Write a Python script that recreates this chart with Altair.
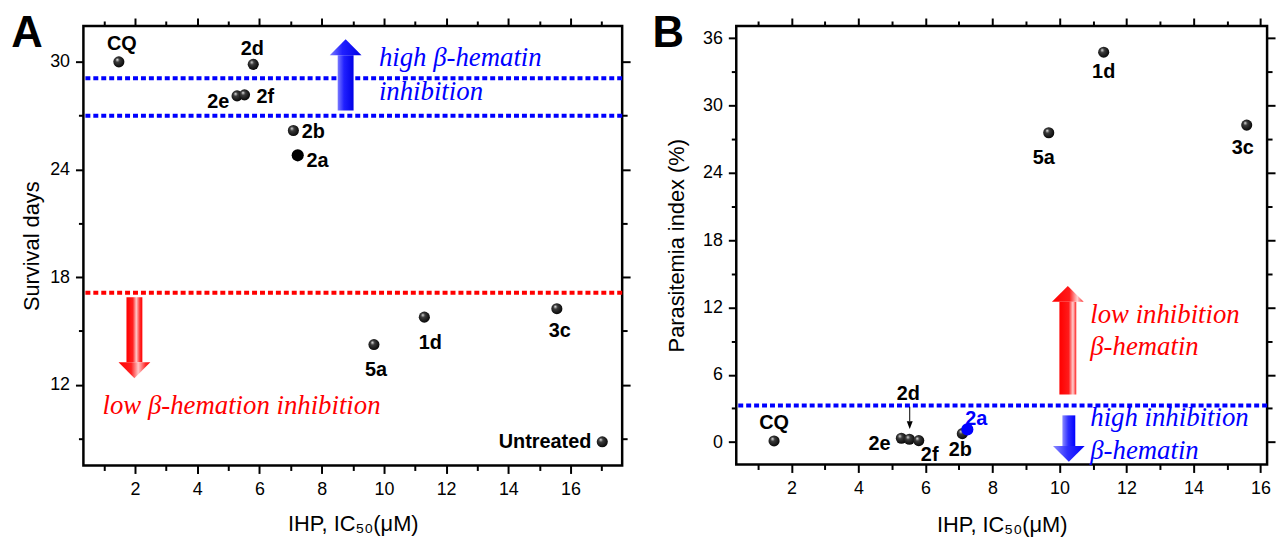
import altair as alt
import pandas as pd

# ---------------- data ----------------
# Panel A: survival days vs IHP IC50
a_names = ["CQ", "2d", "2e", "2f", "2b", "2a", "5a", "1d", "3c", "Untreated"]
a_ic50 = [1.48, 5.80, 5.28, 5.52, 7.09, 7.23, 9.68, 11.30, 15.56, 17.02]
a_survival = [30.0, 29.86, 28.10, 28.16, 26.17, 24.79, 14.24, 15.77, 16.24, 8.82]

# Panel B: parasitemia index vs IHP IC50
b_names = ["CQ", "2e", "2d", "2f", "2b", "2a", "5a", "1d", "3c"]
b_ic50 = [1.48, 5.28, 5.52, 5.80, 7.10, 7.25, 9.68, 11.32, 15.59]
b_parasitemia = [0.10, 0.34, 0.25, 0.13, 0.75, 1.13, 27.58, 34.76, 28.26]

# threshold lines
a_blue_lines = [29.08, 27.0]
a_red_lines = [17.13]
b_blue_lines = [3.26]

# tick values
a_x_ticks = list(range(1, 18))
a_y_ticks = list(range(9, 31, 3))
b_x_ticks = list(range(1, 17))
b_y_ticks = list(range(0, 37, 3))

# annotation arrows (x, shaft end, head base)
a_arrow_up = {"x": [8.77], "y1": [27.29], "y2": [30.37]}
a_arrow_down = {"x": [1.98], "y1": [16.88], "y2": [13.25]}
b_arrow_up = {"x": [10.25], "y1": [4.24], "y2": [12.51]}
b_arrow_down = {"x": [10.28], "y1": [2.38], "y2": [-0.35]}
b_pointer = {"x": [5.53], "y1": [3.15], "y2": [1.85]}

# annotation texts
a_notes_blue = {"text": ["high β-hematin", "inhibition"], "x": [9.84, 9.84], "y": [29.76, 27.88]}
a_notes_red = {"text": ["low β-hemation inhibition"], "x": [0.956], "y": [10.39]}
b_notes_red = {"text": ["low inhibition", "β-hematin"], "x": [10.92, 10.92], "y": [10.59, 7.78]}
b_notes_blue = {"text": ["high inhibition", "β-hematin"], "x": [10.92, 10.92], "y": [1.43, -1.52]}

dfA = pd.DataFrame({"name": a_names, "x": a_ic50, "y": a_survival})
dfB = pd.DataFrame({"name": b_names, "x": b_ic50, "y": b_parasitemia})

# ---------------- styles ----------------
BLUE = "#0000ff"
RED = "#ff0000"
SANS = "Liberation Sans"
SERIF = "Liberation Serif"

W_A, H_A = 543, 443
W_B, H_B = 535, 442

sphere = {"gradient": "radial", "x1": 0.35, "y1": 0.3, "r1": 0.0,
          "x2": 0.45, "y2": 0.45, "r2": 0.62,
          "stops": [{"offset": 0, "color": "#eeeeee"},
                    {"offset": 0.3, "color": "#3c3c3c"},
                    {"offset": 1, "color": "#000000"}]}


def lin(stops):
    return {"gradient": "linear", "x1": 0, "y1": 0, "x2": 1, "y2": 0,
            "stops": [{"offset": o, "color": c} for o, c in stops]}


blue_grad_a = lin([(0, "#7a7aff"), (0.4, "#2020ff"), (1, "#0000e6")])
red_grad_a = lin([(0, "#ff0000"), (0.4, "#ff2020"), (0.62, "#ffc8c8"), (0.85, "#ff2a2a"), (1, "#ff0000")])
red_grad_b = lin([(0, "#ff0000"), (0.55, "#ff1a1a"), (0.8, "#ffd0d0"), (1, "#ff2020")])
blue_grad_b = lin([(0, "#8c8cff"), (0.45, "#3030ff"), (1, "#0000ff")])

HEAD_UP = "M0,-1L1,0L-1,0Z"
HEAD_DOWN = "M0,1L1,0L-1,0Z"


def tsize(step, big=8, small=5):
    return {"condition": {"test": f"datum.value % {step} === 0", "value": big}, "value": small}


def axis_common(**kw):
    base = dict(grid=False, domain=False, tickColor="black", tickWidth=2,
                labelFont=SANS, labelFontSize=18, labelColor="black",
                labelOverlap=False, titleFont=SANS, titleFontSize=22,
                titleFontWeight="normal", titleColor="black", format="d")
    base.update(kw)
    return alt.Axis(**base)


def build_panel(df, xs, ys, xticks, yticks, ystep, ytitle, w, h,
                y_title_x, x_title_y, letter, letter_x, extra_layers, labels):
    xmain = axis_common(orient="bottom", values=xticks,
                        labelExpr="datum.value % 2 === 0 ? datum.label : ''",
                        tickSize=tsize(2), labelPadding=7,
                        title="IHP, IC₅₀(μM)", titleY=x_title_y, titleBaseline="middle")
    ymain = axis_common(orient="left", values=yticks,
                        labelExpr=f"datum.value % {ystep} === 0 ? datum.label : ''",
                        tickSize=tsize(ystep), labelPadding=6,
                        title=ytitle, titleX=y_title_x, titleY=h / 2, titleAngle=270,
                        titleBaseline="middle", titleAlign="center")
    xmirror = axis_common(orient="top", values=xticks, labels=False, tickSize=tsize(2), title=None)
    ymirror = axis_common(orient="right", values=yticks, labels=False, tickSize=tsize(ystep), title=None)

    axes_layer = alt.Chart(df).mark_point(opacity=0).encode(
        x=alt.X("x:Q", scale=xs, axis=xmain),
        y=alt.Y("y:Q", scale=ys, axis=ymain))
    mirror_layer = alt.Chart(df).mark_point(opacity=0).encode(
        x=alt.X("x:Q", scale=xs, axis=xmirror),
        y=alt.Y("y:Q", scale=ys, axis=ymirror))

    layers = [axes_layer, mirror_layer] + extra_layers

    for name, (dx, dy, align, color) in labels.items():
        layers.append(
            alt.Chart(df).transform_filter(alt.datum.name == name).mark_text(
                dx=dx, dy=dy, align=align, baseline="middle", font=SANS,
                fontSize=20, fontWeight="bold", color=color).encode(
                x=alt.X("x:Q", scale=xs, axis=None),
                y=alt.Y("y:Q", scale=ys, axis=None),
                text="name:N"))

    layers.append(
        alt.Chart(pd.DataFrame({"t": [letter]})).mark_text(
            align="left", baseline="alphabetic", font=SANS, fontSize=44,
            fontWeight="bold", color="black").encode(
            x=alt.value(letter_x), y=alt.value(21), text="t:N"))

    return alt.layer(*layers).resolve_axis(x="independent", y="independent").properties(
        width=w, height=h)


def hlines(vals, color, xs, ys):
    return alt.Chart(pd.DataFrame({"y": vals})).mark_rule(
        color=color, strokeWidth=4, strokeDash=[5, 3]).encode(
        y=alt.Y("y:Q", scale=ys, axis=None))


def arrow(d, grad, head, width, xs, ys):
    df = pd.DataFrame(d)
    shaft = alt.Chart(df).mark_bar(size=width, fill=grad, stroke="transparent").encode(
        x=alt.X("x:Q", scale=xs, axis=None),
        y=alt.Y("y1:Q", scale=ys, axis=None),
        y2="y2:Q")
    tip = alt.Chart(df).mark_point(shape=head, filled=True, fill=grad, size=1024,
                                   strokeWidth=0, opacity=1).encode(
        x=alt.X("x:Q", scale=xs, axis=None),
        y=alt.Y("y2:Q", scale=ys, axis=None))
    return [shaft, tip]


def notes(d, color, xs, ys):
    return alt.Chart(pd.DataFrame(d)).mark_text(
        align="left", baseline="alphabetic", font=SERIF, fontStyle="italic",
        fontSize=27, color=color).encode(
        x=alt.X("x:Q", scale=xs, axis=None),
        y=alt.Y("y:Q", scale=ys, axis=None),
        text="text:N")


def spheres(df, xs, ys, exclude, special):
    base = alt.Chart(df).transform_filter(
        ~alt.FieldOneOfPredicate(field="name", oneOf=exclude)).mark_circle(
        size=125, fill=sphere, opacity=1).encode(
        x=alt.X("x:Q", scale=xs, axis=None),
        y=alt.Y("y:Q", scale=ys, axis=None))
    out = [base]
    for name, color in special.items():
        out.append(alt.Chart(df).transform_filter(alt.datum.name == name).mark_circle(
            size=150, color=color, opacity=1).encode(
            x=alt.X("x:Q", scale=xs, axis=None),
            y=alt.Y("y:Q", scale=ys, axis=None)))
    return out


# ---------------- panel A ----------------
xsA = alt.Scale(domain=[0.5, 17.5], nice=False, zero=False)
ysA = alt.Scale(domain=[7.5, 32], nice=False, zero=False)

extraA = [hlines(a_blue_lines, BLUE, xsA, ysA), hlines(a_red_lines, RED, xsA, ysA)]
extraA += arrow(a_arrow_up, blue_grad_a, HEAD_UP, 16, xsA, ysA)
extraA += arrow(a_arrow_down, red_grad_a, HEAD_DOWN, 16, xsA, ysA)
extraA += [notes(a_notes_blue, BLUE, xsA, ysA), notes(a_notes_red, RED, xsA, ysA)]
extraA += spheres(dfA, xsA, ysA, ["2a"], {"2a": "black"})

labelsA = {
    "CQ": (3, -18, "center", "black"),
    "2d": (-1, -15, "center", "black"),
    "2e": (-19, 6, "center", "black"),
    "2f": (21, 2, "center", "black"),
    "2b": (20, 2, "center", "black"),
    "2a": (20, 6, "center", "black"),
    "5a": (2, 26, "center", "black"),
    "1d": (6, 26, "center", "black"),
    "3c": (3, 23, "center", "black"),
    "Untreated": (-11, 0, "right", "black"),
}

panelA = build_panel(dfA, xsA, ysA, a_x_ticks, a_y_ticks, 6, "Survival days", W_A, H_A,
                     -52, 59, "A", -72.7, extraA, labelsA)

# ---------------- panel B ----------------
xsB = alt.Scale(domain=[0.5, 16.05], nice=False, zero=False)
ysB = alt.Scale(domain=[-2, 37.1], nice=False, zero=False)

extraB = [hlines(b_blue_lines, BLUE, xsB, ysB)]
extraB += arrow(b_arrow_up, red_grad_b, HEAD_UP, 17, xsB, ysB)
extraB += arrow(b_arrow_down, blue_grad_b, HEAD_DOWN, 13, xsB, ysB)
extraB += [notes(b_notes_red, RED, xsB, ysB), notes(b_notes_blue, BLUE, xsB, ysB)]
pdf = pd.DataFrame(b_pointer)
extraB += [
    alt.Chart(pdf).mark_rule(color="black", strokeWidth=1).encode(
        x=alt.X("x:Q", scale=xsB, axis=None),
        y=alt.Y("y1:Q", scale=ysB, axis=None), y2="y2:Q"),
    alt.Chart(pdf).mark_point(shape="M-1,0L1,0L0,2.6Z", filled=True, color="black",
                              size=36, opacity=1).encode(
        x=alt.X("x:Q", scale=xsB, axis=None),
        y=alt.Y("y2:Q", scale=ysB, axis=None)),
]
extraB += spheres(dfB, xsB, ysB, ["2a"], {"2a": BLUE})

labelsB = {
    "CQ": (0, -18, "center", "black"),
    "2e": (-22, 6, "center", "black"),
    "2d": (-1, -46, "center", "black"),
    "2f": (11, 15, "center", "black"),
    "2b": (-2, 17, "center", "black"),
    "2a": (9, -10, "center", BLUE),
    "5a": (-5, 26, "center", "black"),
    "1d": (0, 20, "center", "black"),
    "3c": (-4, 23, "center", "black"),
}

panelB = build_panel(dfB, xsB, ysB, b_x_ticks, b_y_ticks, 6, "Parasitemia index (%)", W_B, H_B,
                     -60, 61, "B", -84.3, extraB, labelsB)

chart = alt.hconcat(panelA, panelB, spacing=115, bounds="flush").configure_view(
    stroke="black", strokeWidth=2.5).properties(
    padding={"left": 2, "top": 0, "right": 0, "bottom": 0}, background="white")

chart.save("out.html", embed_options={"renderer": "svg", "actions": False})
